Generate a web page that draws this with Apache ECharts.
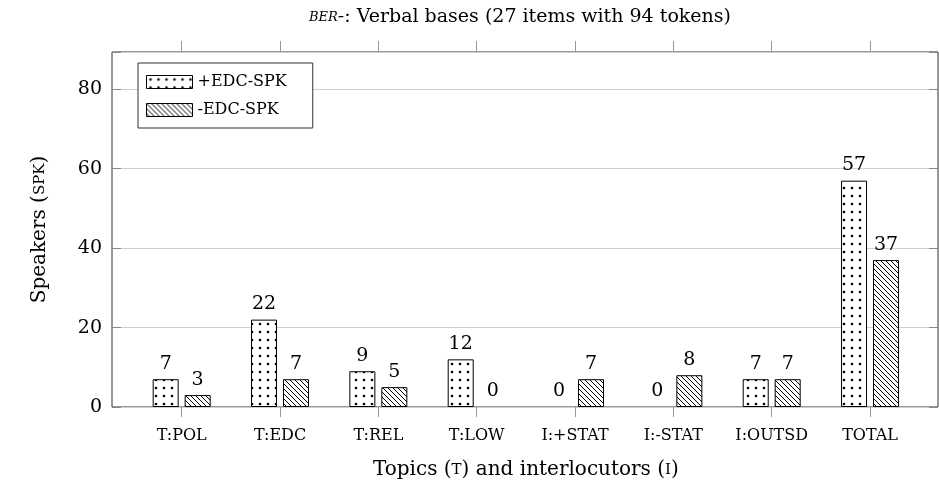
<!DOCTYPE html>
<html><head><meta charset="utf-8">
<script src="https://cdn.jsdelivr.net/npm/echarts@6/dist/echarts.min.js"></script>
<style>html,body{margin:0;padding:0;background:#fff}#c{width:939px;height:487px}</style>
</head><body><div id="c"></div>
<script>
const categories = ['T:POL', 'T:EDC', 'T:REL', 'T:LOW', 'I:+STAT', 'I:-STAT', 'I:OUTSD', 'TOTAL'];
const plusEdcSpk = [7, 22, 9, 12, 0, 0, 7, 57];
const minusEdcSpk = [3, 7, 5, 0, 7, 8, 7, 37];
const seriesNames = ['+EDC-SPK', '-EDC-SPK'];
const yTickStep = 20;
const yMax = 89.4;

function dotPattern() {
  const c = document.createElement('canvas');
  c.width = 8; c.height = 8;
  const g = c.getContext('2d');
  g.fillStyle = '#fff'; g.fillRect(0, 0, 8, 8);
  g.fillStyle = '#000';
  g.beginPath(); g.arc(4, 4, 1.3, 0, Math.PI * 2); g.fill();
  return c;
}
function hatchPattern() {
  const s = 5;
  const c = document.createElement('canvas');
  c.width = s; c.height = s;
  const g = c.getContext('2d');
  g.fillStyle = '#fff'; g.fillRect(0, 0, s, s);
  g.strokeStyle = '#000'; g.lineWidth = 1;
  for (let k = -1; k <= 1; k++) {
    g.beginPath(); g.moveTo(k * s, 0); g.lineTo(k * s + s, s); g.stroke();
  }
  return c;
}
// zero-height bars: no outline, only the value label (as in the reference)
const toItems = arr => arr.map(v => (v === 0 ? {value: v, itemStyle: {borderWidth: 0, borderColor: 'transparent'}} : v));

const serif = 'DejaVu Serif';
const chart = echarts.init(document.getElementById('c'), null, {renderer: 'canvas'});

const labelStyle = {show: true, position: 'top', distance: 6, fontFamily: serif, fontSize: 19, color: '#000'};
const nameRich = {
  n: {fontFamily: serif, fontSize: 20, color: '#000', verticalAlign: 'bottom', lineHeight: 24},
  s: {fontFamily: serif, fontSize: 15, color: '#000', verticalAlign: 'bottom', lineHeight: 22, padding: [0, 0, 2, 0]}
};

chart.setOption({
  animation: false,
  backgroundColor: '#fff',
  graphic: [{
    type: 'text', x: 520, y: 16,
    style: {
      text: '{sc|BER}{it|-}{n|: Verbal bases (27 items with 94 tokens)}',
      align: 'center', verticalAlign: 'middle',
      rich: {
        sc: {fontFamily: serif, fontStyle: 'italic', fontSize: 13, fill: '#000', verticalAlign: 'bottom', lineHeight: 19, padding: [0, 0, 3, 0]},
        it: {fontFamily: serif, fontStyle: 'italic', fontSize: 19, fill: '#000', verticalAlign: 'bottom', lineHeight: 22},
        n: {fontFamily: serif, fontSize: 19, fill: '#000', verticalAlign: 'bottom', lineHeight: 22}
      }
    }
  }],
  grid: [
    {left: 112, right: 1, top: 52, bottom: 80, outerBoundsMode: 'none', show: true, borderColor: '#333', borderWidth: 1, backgroundColor: 'transparent'},
    {left: 132.5, right: 19.8, top: 52, bottom: 80, outerBoundsMode: 'none'}
  ],
  legend: {
    left: 138, top: 63, orient: 'vertical',
    data: seriesNames,
    icon: 'rect', itemWidth: 46, itemHeight: 13, itemGap: 10,
    padding: [10, 26, 9, 8],
    borderColor: '#333', borderWidth: 1, backgroundColor: '#fff',
    textStyle: {fontFamily: serif, fontSize: 16, color: '#000', lineHeight: 18},
    itemStyle: {borderColor: '#000', borderWidth: 1}
  },
  xAxis: [
    {gridIndex: 0, type: 'value', show: false, min: 0, max: 1},
    {
      gridIndex: 1, type: 'category', data: categories, position: 'bottom',
      axisLine: {show: false},
      axisTick: {show: true, alignWithLabel: true, length: 10, lineStyle: {color: '#999'}},
      axisLabel: {margin: 21, fontFamily: serif, fontSize: 16, color: '#000'},
      name: '{n|Topics (}{s|T}{n|) and interlocutors (}{s|I}{n|)}',
      nameLocation: 'middle', nameGap: 49,
      nameTextStyle: {rich: nameRich}
    },
    {
      gridIndex: 1, type: 'category', data: categories, position: 'top',
      axisLine: {show: false},
      axisTick: {show: true, alignWithLabel: true, length: 11, lineStyle: {color: '#999'}},
      axisLabel: {show: false}
    }
  ],
  yAxis: [
    {
      gridIndex: 0, type: 'value', min: 0, max: yMax, interval: yTickStep, position: 'left',
      axisLine: {show: false},
      axisTick: {show: true, inside: true, length: 9, lineStyle: {color: '#888'}},
      splitLine: {show: true, lineStyle: {color: '#cfcfcf'}},
      axisLabel: {margin: 10, fontFamily: serif, fontSize: 19, color: '#000',
        formatter: v => (v % yTickStep === 0 ? String(v) : '')},
      name: '{n|Speakers (}{s|SPK}{n|)}',
      nameLocation: 'middle', nameGap: 62, nameRotate: 90,
      nameTextStyle: {rich: nameRich}
    },
    {
      gridIndex: 0, type: 'value', min: 0, max: yMax, interval: yTickStep, position: 'right',
      axisLine: {show: false},
      axisTick: {show: true, inside: true, length: 9, lineStyle: {color: '#888'}},
      splitLine: {show: false},
      axisLabel: {show: false}
    },
    {gridIndex: 1, type: 'value', min: 0, max: yMax, show: false}
  ],
  series: [
    {
      name: seriesNames[0], type: 'bar', xAxisIndex: 1, yAxisIndex: 2,
      data: toItems(plusEdcSpk), barWidth: 26, barGap: '23%',
      itemStyle: {color: {image: dotPattern(), repeat: 'repeat'}, borderColor: '#000', borderWidth: 1},
      label: labelStyle
    },
    {
      name: seriesNames[1], type: 'bar', xAxisIndex: 1, yAxisIndex: 2,
      data: toItems(minusEdcSpk), barWidth: 26, barGap: '23%',
      itemStyle: {color: {image: hatchPattern(), repeat: 'repeat'}, borderColor: '#000', borderWidth: 1},
      label: labelStyle
    }
  ]
});
</script>
</body></html>
